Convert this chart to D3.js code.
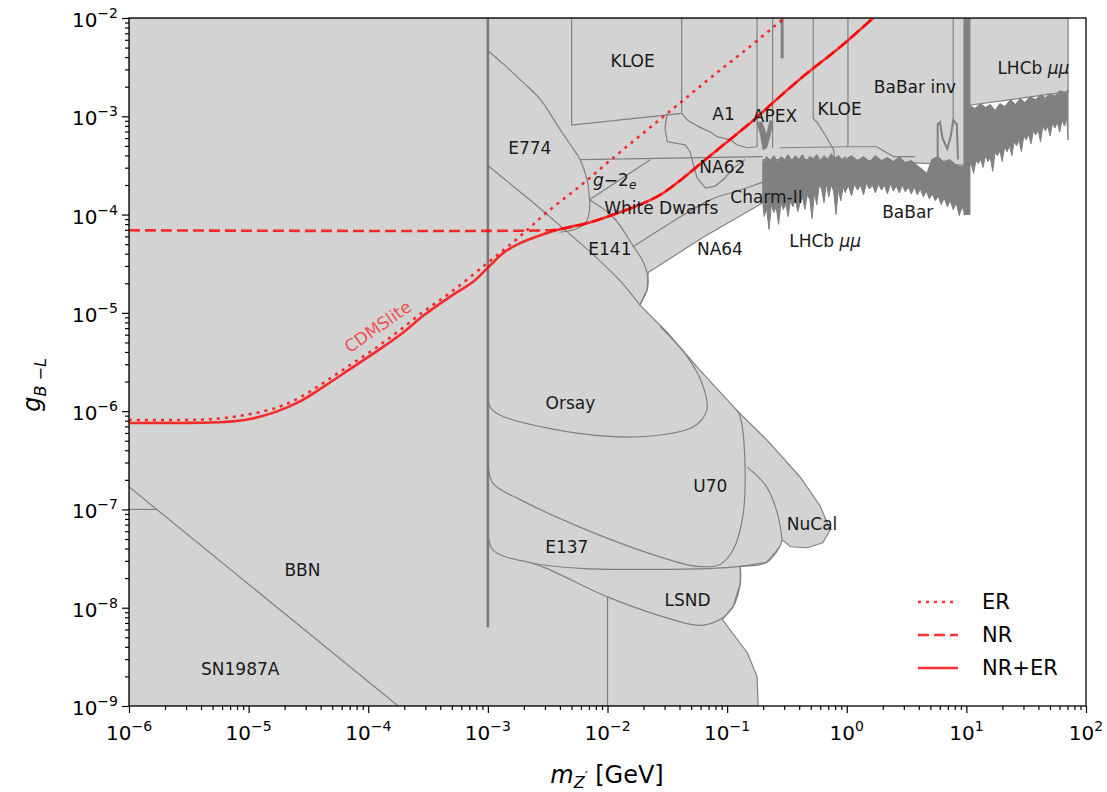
<!DOCTYPE html>
<html>
<head>
<meta charset="utf-8">
<script src="https://cdn.jsdelivr.net/npm/d3@7"></script>
<style>
  body { margin: 0; background: #fff; }
  text { font-family: "DejaVu Sans", sans-serif; }
</style>
</head>
<body>
<svg id="chart" width="1107" height="792"></svg>
<script>
// all points are [log10(m / GeV), log10(g)]

var xTickExps = [-6, -5, -4, -3, -2, -1, 0, 1, 2];
var yTickExps = [-9, -8, -7, -6, -5, -4, -3, -2];

// outer edge of the excluded (grey) area
var excludedOutline = [
  [-6, -2], [1.85, -2], [1.85, -2.75], [1.01, -2.89], [1.01, -3.50], [-0.01, -3.44],
  [-0.70, -3.44], [-0.70, -3.88], [-1.20, -4.23], [-1.66, -4.59], [-1.67, -4.77],
  [-1.73, -4.92], [-1.50, -5.20], [-1.23, -5.58], [-0.92, -5.99], [-0.67, -6.29],
  [-0.39, -6.67], [-0.22, -6.97], [-0.14, -7.21], [-0.20, -7.34], [-0.33, -7.39],
  [-0.47, -7.38], [-0.54, -7.31], [-0.56, -7.38], [-0.67, -7.54], [-0.89, -7.58],
  [-0.89, -7.75], [-0.95, -7.99], [-1.04, -8.12], [-0.83, -8.46], [-0.75, -8.70],
  [-0.74, -9], [-6, -9]
];

// experiment boundaries drawn on top
var bbnLine = [[-6, -6.77], [-3.75, -9]];
var bbnStep = [[-6, -7], [-5.77, -7]];
var e774Upper = [[-3.0, -2.33], [-2.86, -2.48], [-2.71, -2.65], [-2.56, -2.83], [-2.42, -3.09],
  [-2.31, -3.29], [-2.23, -3.44], [-2.17, -3.65], [-2.15, -3.85], [-2.15, -3.95],
  [-2.18, -4.08], [-2.27, -4.15], [-2.40, -4.18]];
var e774Lower = [[-3.0, -3.50], [-2.90, -3.60], [-2.65, -3.85], [-2.37, -4.14],
  [-2.10, -4.43], [-1.89, -4.68], [-1.73, -4.92]];
var kloeLow = [[-2.30, -2], [-2.30, -3.09], [-1.38, -2.97], [-1.38, -2]];
var g2Top = [[-2.23, -3.44], [-0.70, -3.41]];
var g2Diag = [[-2.15, -3.85], [-1.64, -3.44]];
var wdLower = [[-1.79, -4.33], [-1.48, -4.09], [-1.14, -3.85], [-0.89, -3.75], [-0.70, -3.67]];
var e141Edge = [[-2.15, -3.85], [-1.95, -4.03], [-1.79, -4.31], [-1.69, -4.51],
  [-1.66, -4.67], [-1.67, -4.77], [-1.73, -4.92]];
var na62Edge = [[-1.50, -2.97], [-1.52, -3.12], [-1.50, -3.26], [-1.35, -3.29], [-1.31, -3.36],
  [-1.28, -3.50], [-1.25, -3.63], [-1.18, -3.73], [-1.10, -3.71], [-1.02, -3.63],
  [-0.95, -3.53], [-0.85, -3.44]];
var a1Edge = [[-1.38, -2.97], [-1.33, -3.04], [-1.23, -3.11], [-1.14, -3.16], [-1.08, -3.21],
  [-0.97, -3.24], [-0.92, -3.29], [-0.83, -3.32], [-0.75, -3.31]];
var apexLeft = [[-0.75, -2], [-0.75, -3.31]];
var apexRight = [[-0.62, -2], [-0.62, -3.32]];
var kloeHighLeft = [[-0.28, -2], [-0.28, -3.02], [-0.25, -3.06], [-0.18, -3.19], [-0.11, -3.34], [-0.10, -3.44]];
var kloeHighRight = [[0.01, -2], [0.01, -3.31]];
var kloeHighBottom = [[-0.56, -3.32], [0.01, -3.31]];
var babarInvBottom = [[0.01, -3.31], [0.25, -3.31], [0.39, -3.41], [0.57, -3.41]];
var babarInvEdge = [[0.89, -2], [0.89, -3.10]];
var orsayEdge = [[-3.0, -5.78], [-2.98, -5.96], [-2.90, -6.04], [-2.51, -6.17], [-1.95, -6.26],
  [-1.54, -6.24], [-1.28, -6.16], [-1.17, -5.99], [-1.20, -5.75], [-1.33, -5.45], [-1.56, -5.14]];
var u70Edge = [[-3.0, -6.47], [-2.96, -6.73], [-2.73, -6.90], [-2.23, -7.18], [-1.67, -7.44],
  [-1.25, -7.58], [-1.06, -7.56], [-0.95, -7.41], [-0.87, -7.08], [-0.85, -6.57],
  [-0.89, -6.06], [-0.92, -5.99]];
var nucalInner = [[-0.83, -6.57], [-0.67, -6.77], [-0.58, -7.04], [-0.54, -7.31]];
var e137Edge = [[-3.0, -7.18], [-2.96, -7.41], [-2.65, -7.54], [-2.23, -7.60], [-1.67, -7.61],
  [-1.12, -7.60], [-0.89, -7.58], [-0.67, -7.54], [-0.56, -7.38]];
var lsndEdge = [[-2.65, -7.54], [-2.51, -7.60], [-2.00, -7.89], [-1.54, -8.09], [-1.23, -8.18],
  [-1.06, -8.12], [-0.95, -7.99], [-0.89, -7.75], [-0.89, -7.58]];
var lsndCut = [[-2.0, -7.89], [-2.0, -9]];
var fifthForce = [[-3.0, -2], [-3.0, -8.20]];

// dark, noisy limits
var lhcbLow = [[-0.70, -3.47], [-0.67, -3.41], [-0.64, -3.45], [-0.61, -3.40], [-0.58, -3.46],
  [-0.55, -3.41], [-0.52, -3.44], [-0.49, -3.39], [-0.46, -3.45], [-0.43, -3.40], [-0.40, -3.44],
  [-0.37, -3.39], [-0.34, -3.46], [-0.31, -3.41], [-0.28, -3.43], [-0.25, -3.39], [-0.22, -3.45],
  [-0.19, -3.40], [-0.16, -3.44], [-0.13, -3.38], [-0.10, -3.43], [-0.07, -3.40], [-0.04, -3.44],
  [-0.01, -3.41],
  [-0.01, -3.78], [-0.03, -3.72], [-0.05, -3.86], [-0.07, -3.74], [-0.09, -4.00], [-0.11, -3.76],
  [-0.13, -3.70], [-0.15, -3.82], [-0.17, -3.68], [-0.19, -3.88], [-0.21, -3.74], [-0.23, -3.70],
  [-0.25, -3.90], [-0.27, -3.78], [-0.29, -4.04], [-0.31, -3.84], [-0.33, -3.80], [-0.35, -3.95],
  [-0.37, -3.82], [-0.39, -3.88], [-0.41, -3.97], [-0.43, -3.84], [-0.45, -3.92], [-0.47, -3.86],
  [-0.49, -4.02], [-0.51, -3.89], [-0.53, -3.95], [-0.55, -3.88], [-0.57, -4.10], [-0.59, -3.92],
  [-0.61, -3.98], [-0.63, -3.90], [-0.65, -4.15], [-0.67, -3.94], [-0.69, -4.02], [-0.70, -3.90]];
var babarVis = [[-0.01, -3.44], [0.04, -3.40], [0.09, -3.45], [0.14, -3.41], [0.19, -3.46],
  [0.24, -3.40], [0.29, -3.45], [0.34, -3.42], [0.39, -3.46], [0.44, -3.41], [0.49, -3.47],
  [0.54, -3.45], [0.59, -3.50], [0.64, -3.55], [0.67, -3.58], [0.71, -3.44], [0.76, -3.41],
  [0.81, -3.46], [0.86, -3.44], [0.91, -3.49], [0.95, -3.51], [0.99, -3.50],
  [0.99, -4.00], [0.965, -3.92], [0.94, -4.01], [0.915, -3.88], [0.89, -3.95], [0.865, -3.86],
  [0.84, -3.92], [0.815, -3.83], [0.79, -3.90], [0.765, -3.81], [0.74, -3.86], [0.715, -3.79],
  [0.69, -3.84], [0.665, -3.76], [0.64, -3.82], [0.615, -3.74], [0.59, -3.80], [0.565, -3.72],
  [0.54, -3.79], [0.515, -3.72], [0.49, -3.77], [0.465, -3.70], [0.44, -3.78], [0.415, -3.71],
  [0.39, -3.76], [0.365, -3.69], [0.34, -3.79], [0.315, -3.70], [0.29, -3.75], [0.265, -3.69],
  [0.24, -3.78], [0.215, -3.70], [0.19, -3.74], [0.165, -3.68], [0.14, -3.80], [0.115, -3.70],
  [0.09, -3.75], [0.065, -3.69], [0.04, -3.81], [0.015, -3.71], [-0.01, -3.76]];
var lhcbHigh = [[1.03, -2.89], [1.07, -2.92], [1.12, -2.87], [1.16, -2.91], [1.20, -2.88],
  [1.24, -2.94], [1.28, -2.87], [1.32, -2.90], [1.37, -2.83], [1.41, -2.88], [1.45, -2.82],
  [1.49, -2.86], [1.53, -2.80], [1.58, -2.83], [1.62, -2.78], [1.66, -2.81], [1.70, -2.77],
  [1.74, -2.79], [1.78, -2.74], [1.83, -2.76], [1.85, -2.73],
  [1.85, -3.24], [1.84, -3.02], [1.82, -3.10], [1.80, -3.04], [1.78, -3.16], [1.76, -3.06],
  [1.74, -3.12], [1.72, -3.07], [1.70, -3.20], [1.68, -3.10], [1.66, -3.15], [1.64, -3.10],
  [1.62, -3.26], [1.60, -3.14], [1.58, -3.19], [1.56, -3.15], [1.54, -3.28], [1.52, -3.18],
  [1.50, -3.24], [1.48, -3.20], [1.46, -3.36], [1.44, -3.24], [1.42, -3.30], [1.40, -3.26],
  [1.38, -3.40], [1.36, -3.30], [1.34, -3.36], [1.32, -3.31], [1.30, -3.46], [1.28, -3.35],
  [1.26, -3.40], [1.24, -3.37], [1.22, -3.56], [1.20, -3.42], [1.18, -3.46], [1.16, -3.40],
  [1.14, -3.52], [1.12, -3.44], [1.10, -3.48], [1.08, -3.45], [1.06, -3.58], [1.04, -3.48],
  [1.03, -3.50]];
var tenGeVStrip = [[0.98, -2], [1.03, -2], [1.03, -4.0], [0.98, -4.0]];
var apexBlob = [[-0.75, -3.06], [-0.72, -3.19], [-0.70, -3.34], [-0.67, -3.32], [-0.64, -3.19],
  [-0.62, -3.06], [-0.64, -3.04], [-0.67, -3.19], [-0.71, -3.06]];
var babarInvSpikes = [[0.76, -3.44], [0.76, -3.08], [0.78, -3.06], [0.80, -3.22], [0.84, -3.33],
  [0.87, -3.20], [0.89, -3.04], [0.92, -3.08], [0.93, -3.44]];
var darkTick = [[-0.54, -2], [-0.54, -2.41]];

// CDMSlite limits
var limitER = [[-6, -6.09], [-5.57, -6.09], [-5.20, -6.07], [-4.78, -5.97], [-4.57, -5.86],
  [-4.36, -5.70], [-4.15, -5.53], [-3.94, -5.36], [-3.73, -5.17], [-3.53, -4.98], [-3.32, -4.80],
  [-3.00, -4.49], [-2.73, -4.22], [-2.51, -3.98], [-2.23, -3.71], [-1.95, -3.42], [-1.67, -3.14],
  [-1.39, -2.86], [-1.12, -2.59], [-0.83, -2.31], [-0.56, -2.04], [-0.52, -2.0]];
var limitNR = [[-6, -4.16], [-2.51, -4.16], [-2.40, -4.15], [-2.15, -4.08], [-1.95, -4.00],
  [-1.73, -3.90], [-1.56, -3.80], [-1.39, -3.65], [-1.23, -3.49], [-1.06, -3.32], [-0.78, -3.04],
  [-0.56, -2.80], [-0.33, -2.56], [-0.06, -2.30], [0.22, -2.0]];
var limitNRER = [[-6, -6.12], [-5.57, -6.12], [-5.20, -6.11], [-4.99, -6.08], [-4.78, -6.01],
  [-4.57, -5.90], [-4.36, -5.74], [-4.15, -5.57], [-3.94, -5.40], [-3.73, -5.22], [-3.53, -5.02],
  [-3.32, -4.84], [-3.11, -4.67], [-3.00, -4.54], [-2.86, -4.38], [-2.73, -4.29], [-2.56, -4.21],
  [-2.40, -4.15], [-2.15, -4.08], [-1.95, -4.00], [-1.73, -3.90], [-1.56, -3.80], [-1.39, -3.65],
  [-1.23, -3.49], [-1.06, -3.32], [-0.78, -3.04], [-0.56, -2.80], [-0.33, -2.56], [-0.06, -2.30],
  [0.22, -2.0]];

var legendNames = ["ER", "NR", "NR+ER"];

var regionLabels = [
  ["KLOE", -1.79, -2.44], ["E774", -2.65, -3.32], ["A1", -1.03, -2.98], ["APEX", -0.60, -3.00],
  ["KLOE", -0.06, -2.93], ["BaBar inv", 0.57, -2.70], ["LHCb μμ", 1.56, -2.51],
  ["NA62", -1.04, -3.52], ["g-2e", -1.94, -3.65], ["Charm-II", -0.67, -3.82],
  ["White Dwarfs", -1.55, -3.93], ["BaBar", 0.51, -3.97], ["LHCb μμ", -0.18, -4.27],
  ["E141", -1.98, -4.35], ["NA64", -1.06, -4.35], ["Orsay", -2.31, -5.92], ["U70", -1.14, -6.76],
  ["NuCal", -0.29, -7.15], ["E137", -2.34, -7.38], ["BBN", -4.55, -7.62], ["LSND", -1.33, -7.92],
  ["SN1987A", -5.07, -8.62]
];
var cdmsLabel = ["CDMSlite", -3.92, -5.14];


var svg = d3.select("#chart");
var LEFT = 129, RIGHT = 1086, TOP = 18, BOTTOM = 706;

var x = d3.scaleLog().domain([1e-6, 1e2]).range([LEFT, RIGHT]);
var y = d3.scaleLog().domain([1e-9, 1e-2]).range([BOTTOM, TOP]);
var px = function(d) { return x(Math.pow(10, d[0])); };
var py = function(d) { return y(Math.pow(10, d[1])); };
var straight = d3.line().x(px).y(py);
var smooth = d3.line().x(px).y(py).curve(d3.curveCatmullRom.alpha(0.5));

svg.append("clipPath").attr("id", "plotclip").append("rect")
  .attr("x", LEFT).attr("y", TOP).attr("width", RIGHT - LEFT).attr("height", BOTTOM - TOP);
var plot = svg.append("g").attr("clip-path", "url(#plotclip)");

// grey excluded area
plot.append("path").attr("d", straight(excludedOutline) + "Z")
  .attr("fill", "#d3d3d3").attr("stroke", "#808080").attr("stroke-width", 1.2);

var straightEdges = [bbnLine, bbnStep, kloeLow, g2Top, g2Diag, na62Edge, a1Edge, apexLeft, apexRight,
  kloeHighLeft, kloeHighRight, kloeHighBottom, babarInvBottom, babarInvEdge, lsndCut];
var smoothEdges = [e774Upper, e774Lower, wdLower, e141Edge, orsayEdge, u70Edge, nucalInner,
  e137Edge, lsndEdge];

straightEdges.forEach(function(pts) {
  plot.append("path").attr("d", straight(pts)).attr("fill", "none")
    .attr("stroke", "#808080").attr("stroke-width", 1.2);
});
smoothEdges.forEach(function(pts) {
  plot.append("path").attr("d", smooth(pts)).attr("fill", "none")
    .attr("stroke", "#808080").attr("stroke-width", 1.2);
});
plot.append("path").attr("d", straight(fifthForce)).attr("stroke", "#7a7a7a").attr("stroke-width", 2.6);

// noisy dark limits
[lhcbLow, babarVis, lhcbHigh, tenGeVStrip, apexBlob].forEach(function(pts) {
  plot.append("path").attr("d", straight(pts) + "Z").attr("fill", "#808080")
    .attr("stroke", "#808080").attr("stroke-width", 1);
});
plot.append("path").attr("d", straight(babarInvSpikes)).attr("fill", "none")
  .attr("stroke", "#808080").attr("stroke-width", 2);
plot.append("path").attr("d", straight(darkTick)).attr("stroke", "#808080").attr("stroke-width", 3);

// CDMSlite curves
var RED = "#ff0000";
var curveStyles = [
  { pts: limitER, dash: "3,5" },
  { pts: limitNR, dash: "11,5" },
  { pts: limitNRER, dash: null }
];
curveStyles.forEach(function(c) {
  plot.append("path").attr("d", smooth(c.pts)).attr("fill", "none")
    .attr("stroke", RED).attr("stroke-opacity", 0.8).attr("stroke-width", 2.6)
    .attr("stroke-dasharray", c.dash);
});

// region labels
regionLabels.forEach(function(l) {
  var t = plot.append("text").attr("x", px([l[1], l[2]])).attr("y", py([l[1], l[2]]))
    .attr("text-anchor", "middle").attr("dominant-baseline", "central")
    .attr("font-size", 17).attr("fill", "#1a1a1a");
  if (l[0] === "LHCb μμ") {
    t.append("tspan").text("LHCb ");
    t.append("tspan").attr("font-style", "italic").text("μμ");
  } else if (l[0] === "g-2e") {
    t.append("tspan").attr("font-style", "italic").text("g");
    t.append("tspan").text("\u22122");
    t.append("tspan").attr("font-style", "italic").attr("font-size", 12).attr("dy", 5).text("e");
  } else {
    t.text(l[0]);
  }
});

plot.append("text")
  .attr("transform", "translate(" + px([cdmsLabel[1], cdmsLabel[2]]) + "," + py([cdmsLabel[1], cdmsLabel[2]]) + ") rotate(-35)")
  .attr("text-anchor", "middle").attr("dominant-baseline", "central")
  .attr("font-size", 17).attr("fill", RED).attr("fill-opacity", 0.65).text(cdmsLabel[0]);

// axes
function minorTicks(lo, hi) {
  var out = [];
  for (var e = lo; e < hi; e++) for (var k = 2; k <= 9; k++) out.push(k * Math.pow(10, e));
  return out;
}
var xMajor = xTickExps.map(function(e) { return Math.pow(10, e); });
var yMajor = yTickExps.map(function(e) { return Math.pow(10, e); });

svg.append("g").attr("transform", "translate(0," + BOTTOM + ")")
  .call(d3.axisBottom(x).tickValues(xMajor).tickSize(7).tickFormat(""));
svg.append("g").attr("transform", "translate(0," + BOTTOM + ")")
  .call(d3.axisBottom(x).tickValues(minorTicks(-6, 2)).tickSize(4).tickFormat(""));
svg.append("g").attr("transform", "translate(" + LEFT + ",0)")
  .call(d3.axisLeft(y).tickValues(yMajor).tickSize(7).tickFormat(""));
svg.append("g").attr("transform", "translate(" + LEFT + ",0)")
  .call(d3.axisLeft(y).tickValues(minorTicks(-9, -2)).tickSize(4).tickFormat(""));
svg.selectAll(".domain").remove();
svg.selectAll(".tick line").attr("stroke", "#000").attr("stroke-width", 1.2);

svg.append("rect").attr("x", LEFT).attr("y", TOP).attr("width", RIGHT - LEFT).attr("height", BOTTOM - TOP)
  .attr("fill", "none").attr("stroke", "#000").attr("stroke-width", 1.3);

function expLabel(sel, e) {
  sel.append("tspan").text("10");
  sel.append("tspan").attr("font-size", 14).attr("dy", -9).text(e < 0 ? "\u2212" + (-e) : String(e));
}
xTickExps.forEach(function(e) {
  var t = svg.append("text").attr("x", x(Math.pow(10, e))).attr("y", 740)
    .attr("text-anchor", "middle").attr("font-size", 20).attr("fill", "#000");
  expLabel(t, e);
});
yTickExps.forEach(function(e) {
  var t = svg.append("text").attr("x", 118).attr("y", y(Math.pow(10, e)) + 9)
    .attr("text-anchor", "end").attr("font-size", 20).attr("fill", "#000");
  expLabel(t, e);
});

// axis titles
var xt = svg.append("text").attr("x", 607).attr("y", 783).attr("text-anchor", "middle")
  .attr("font-size", 24).attr("fill", "#000");
xt.append("tspan").attr("font-style", "italic").text("m");
xt.append("tspan").attr("font-style", "italic").attr("font-size", 16).attr("dy", 5).text("Z");
xt.append("tspan").attr("font-size", 13).attr("dy", -8).text("\u2032");
xt.append("tspan").attr("dy", 3).text(" [GeV]");

var yt = svg.append("text").attr("transform", "translate(40,385) rotate(-90)")
  .attr("text-anchor", "middle").attr("font-size", 24).attr("fill", "#000");
yt.append("tspan").attr("font-style", "italic").text("g");
yt.append("tspan").attr("font-size", 16).attr("dy", 6).attr("font-style", "italic").text("B");
yt.append("tspan").attr("font-size", 16).text(" \u2212");
yt.append("tspan").attr("font-size", 16).attr("font-style", "italic").text("L");

// legend
var legendDash = ["3,5", "11,5", null];
legendNames.forEach(function(name, i) {
  var ly = 602 + i * 33;
  svg.append("line").attr("x1", 918).attr("x2", 958).attr("y1", ly).attr("y2", ly)
    .attr("stroke", RED).attr("stroke-opacity", 0.8).attr("stroke-width", 2.6)
    .attr("stroke-dasharray", legendDash[i]);
  svg.append("text").attr("x", 982).attr("y", ly).attr("dominant-baseline", "central")
    .attr("font-size", 21).attr("fill", "#000").text(name);
});
</script>
</body>
</html>
